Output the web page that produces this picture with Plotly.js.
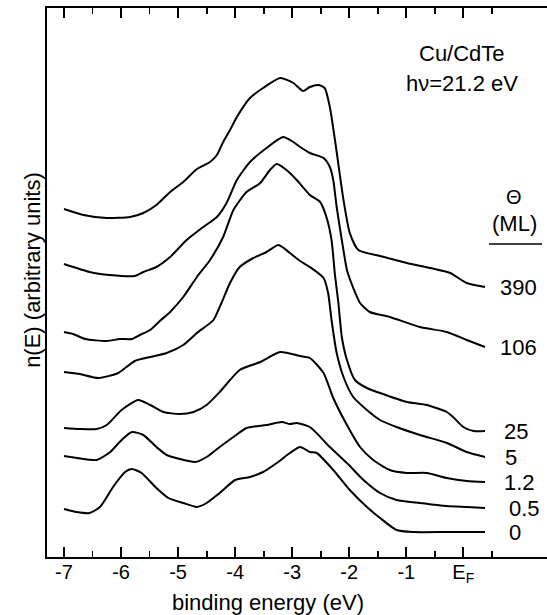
<!DOCTYPE html>
<html>
<head>
<meta charset="utf-8">
<script src="https://cdn.plot.ly/plotly-3.0.1.min.js"></script>
<style>html,body{margin:0;padding:0;background:#fff}#chart{width:547px;height:615px}</style>
</head>
<body>
<div id="chart"></div>
<script>
// binding energy (eV) and n(E) (arbitrary units), one pair per coverage
const coverageLabels = ["390", "106", "25", "5", "1.2", "0.5", "0"];

const x390 = [-7.00,-6.66,-6.25,-5.84,-5.61,-5.38,-5.14,-4.91,-4.67,-4.44,-4.32,-4.21,-4.09,-3.97,-3.74,-3.51,-3.21,-2.98,-2.81,-2.69,-2.54,-2.43,-2.34,-2.25,-2.10,-1.99,-1.84,-1.46,-0.99,-0.58,-0.23,0.06,0.38];
const y390 = [348,342,339,340,344,352,365,375,388,395,402,415,427,440,459,469,479,474,466,470,472,469,450,417,357,324,307,301,294,289,284,274,270];

const x106 = [-7.00,-6.55,-6.20,-5.76,-5.61,-5.38,-5.14,-4.85,-4.56,-4.32,-4.15,-3.97,-3.74,-3.45,-3.16,-2.98,-2.86,-2.69,-2.45,-2.34,-2.28,-2.22,-2.13,-2.04,-1.97,-1.90,-1.81,-1.64,-1.29,-0.76,-0.29,0.06,0.38];
const y106 = [293,285,282,281,285,290,300,317,330,340,354,377,395,409,420,415,410,404,399,390,377,350,317,287,275,265,254,245,240,230,225,217,210];

const x25 = [-7.00,-6.84,-6.63,-6.25,-6.02,-5.81,-5.67,-5.49,-5.32,-5.14,-4.91,-4.67,-4.44,-4.21,-4.03,-3.80,-3.56,-3.39,-3.27,-3.10,-2.92,-2.69,-2.51,-2.40,-2.31,-2.25,-2.19,-2.13,-2.04,-1.90,-1.69,-1.46,-0.99,-0.64,-0.29,-0.18,0.00,0.18,0.38];
const y25 = [225,223,218,216,218,218,222,227,236,245,260,280,297,320,347,365,374,387,393,387,377,362,355,340,317,282,254,220,197,177,169,164,155,152,145,140,130,126,126];

const x5 = [-7.00,-6.72,-6.40,-6.05,-5.76,-5.49,-5.20,-4.91,-4.67,-4.38,-4.24,-4.09,-3.92,-3.68,-3.45,-3.24,-3.04,-2.86,-2.69,-2.45,-2.37,-2.31,-2.22,-2.10,-1.93,-1.69,-1.46,-1.17,-0.76,-0.29,0.06,0.38];
const y5 = [185,183,179,184,196,200,204,212,224,237,254,274,290,299,305,312,304,296,290,279,264,237,204,180,160,147,137,130,122,114,105,100];

const x1p2 = [-7.00,-6.72,-6.43,-6.25,-5.99,-5.70,-5.49,-5.26,-4.97,-4.73,-4.50,-4.27,-3.92,-3.56,-3.21,-2.86,-2.69,-2.45,-2.28,-2.04,-1.81,-1.58,-1.29,-0.99,-0.64,-0.29,0.06,0.38];
const y1p2 = [129,128,128,132,147,157,152,145,143,145,152,165,187,195,205,201,199,184,159,132,110,97,87,84,84,79,76,75];

const x0p5 = [-7.00,-6.77,-6.43,-6.19,-5.99,-5.81,-5.61,-5.38,-5.20,-4.97,-4.70,-4.50,-4.27,-4.03,-3.80,-3.45,-3.18,-3.04,-2.92,-2.69,-2.34,-2.04,-1.75,-1.46,-1.17,-0.76,-0.29,0.06,0.38];
const y0p5 = [101,99,97,105,117,125,122,110,102,98,95,100,110,120,129,132,135,133,134,130,110,94,77,64,57,54,51,50,49];

const x0 = [-7.00,-6.78,-6.55,-6.37,-6.14,-5.93,-5.81,-5.64,-5.38,-5.17,-4.91,-4.67,-4.50,-4.27,-4.00,-3.74,-3.51,-3.27,-3.04,-2.86,-2.69,-2.57,-2.28,-1.99,-1.69,-1.46,-1.17,-0.88,-0.29,0.38];
const y0 = [48,45,44,50,70,85,88,84,69,59,54,50,54,64,77,80,85,94,104,110,105,104,87,67,50,39,27,25,25,25];

const tickVals = [-7,-6,-5,-4,-3,-2,-1,0];
const tickText = ["-7","-6","-5","-4","-3","-2","-1","E<sub>F</sub>"];
const minorVals = [-6.5,-5.5,-4.5,-3.5,-2.5,-1.5,-0.5,0.5];

const xs = [x390, x106, x25, x5, x1p2, x0p5, x0];
const ys = [y390, y106, y25, y5, y1p2, y0p5, y0];
const labelX = [0.61, 0.61, 0.67, 0.70, 0.68, 0.77, 0.77];

const FONT = "Liberation Sans, Arial, Helvetica, sans-serif";
const XRANGE = [-7.298, 1.467];

const traces = xs.map((x, i) => ({
  x: x, y: ys[i], type: "scatter", mode: "lines",
  name: coverageLabels[i],
  line: {color: "#000", width: 2, shape: "spline", smoothing: 0.6},
  hoverinfo: "skip", showlegend: false
}));
// invisible companion so the top tick axis is drawn
traces.push({x: x0, y: y0, xaxis: "x2", yaxis: "y", type: "scatter", mode: "lines",
  line: {color: "rgba(0,0,0,0)", width: 0}, hoverinfo: "skip", showlegend: false});

const annotations = coverageLabels.map((t, i) => ({
  x: labelX[i], y: ys[i][ys[i].length - 1], xref: "x", yref: "y",
  text: t, showarrow: false, xanchor: "left", yanchor: "middle",
  font: {family: FONT, size: 22, color: "#000"}
}));

annotations.push(
  {x: 0.83, y: 0.918, xref: "paper", yref: "paper", text: "Cu/CdTe", showarrow: false,
   xanchor: "center", yanchor: "middle", font: {family: FONT, size: 22, color: "#000"}},
  {x: 0.83, y: 0.862, xref: "paper", yref: "paper", text: "hν=21.2 eV", showarrow: false,
   xanchor: "center", yanchor: "middle", font: {family: FONT, size: 22, color: "#000"}},
  {x: 0.934, y: 0.656, xref: "paper", yref: "paper", text: "Θ", showarrow: false,
   xanchor: "center", yanchor: "middle", font: {family: FONT, size: 20, color: "#000"}},
  {x: 0.934, y: 0.608, xref: "paper", yref: "paper", text: "(ML)", showarrow: false,
   xanchor: "center", yanchor: "middle", font: {family: FONT, size: 22, color: "#000"}},
  {x: -3.43, y: -0.083, xref: "x", yref: "paper", text: "binding energy (eV)", showarrow: false,
   xanchor: "center", yanchor: "middle", font: {family: FONT, size: 22, color: "#000"}},
  {x: -0.028, y: 0.523, xref: "paper", yref: "paper", text: "n(E) (arbitrary units)", showarrow: false,
   textangle: -90, xanchor: "center", yanchor: "middle", font: {family: FONT, size: 22, color: "#000"}}
);

const layout = {
  width: 547, height: 615,
  margin: {l: 47, r: 0, t: 8, b: 58},
  paper_bgcolor: "#fff", plot_bgcolor: "#fff",
  showlegend: false,
  xaxis: {
    range: XRANGE, showgrid: false, zeroline: false,
    showline: true, linecolor: "#000", linewidth: 2, mirror: true,
    tickmode: "array", tickvals: tickVals, ticktext: tickText,
    ticks: "inside", ticklen: 10, tickwidth: 1.8, tickcolor: "#000",
    ticklabelstandoff: -4,
    tickfont: {family: FONT, size: 20, color: "#000"},
    minor: {tickvals: minorVals, ticks: "inside", ticklen: 6, tickwidth: 1.8, tickcolor: "#000", showgrid: false}
  },
  xaxis2: {
    range: XRANGE, overlaying: "x", side: "top", anchor: "y",
    showgrid: false, zeroline: false, showline: false, showticklabels: false,
    tickmode: "array", tickvals: tickVals,
    ticks: "inside", ticklen: 10, tickwidth: 1.8, tickcolor: "#000",
    minor: {tickvals: minorVals, ticks: "inside", ticklen: 6, tickwidth: 1.8, tickcolor: "#000", showgrid: false}
  },
  yaxis: {
    range: [0, 549], showgrid: false, zeroline: false,
    showline: true, linecolor: "#000", linewidth: 2, mirror: false,
    ticks: "", showticklabels: false
  },
  shapes: [
    {type: "line", xref: "paper", yref: "paper", x0: 0.884, x1: 0.99, y0: 0.570, y1: 0.570,
     line: {color: "#000", width: 1.5}}
  ],
  annotations: annotations
};

Plotly.newPlot("chart", traces, layout, {displayModeBar: false, staticPlot: true});
</script>
</body>
</html>
